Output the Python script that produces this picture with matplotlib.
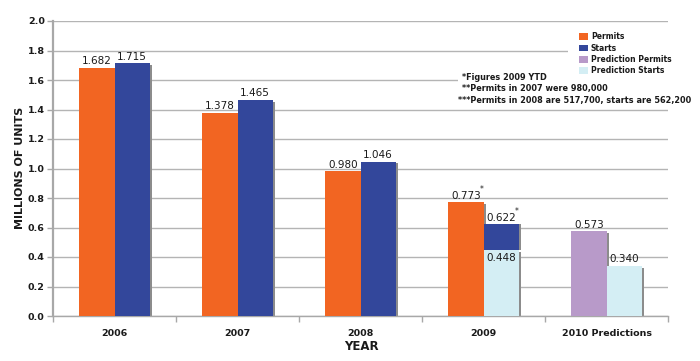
import matplotlib
matplotlib.use("Agg")
import matplotlib.pyplot as plt
from matplotlib.patches import Rectangle, Patch
import numpy as np

categories = ["2006", "2007", "2008", "2009", "2010 Predictions"]
permits = [1.682, 1.378, 0.980, 0.773, None]
starts = [1.715, 1.465, 1.046, 0.622, None]
pred_permits = [None, None, None, None, 0.573]
pred_starts = [None, None, None, 0.448, 0.340]
yticks = [0.0, 0.2, 0.4, 0.6, 0.8, 1.0, 1.2, 1.4, 1.6, 1.8, 2.0]
notes = ["*Figures 2009 YTD",
         "**Permits in 2007 were 980,000",
         "***Permits in 2008 are 517,700, starts are 562,200"]
legend_labels = ["Permits", "Starts", "Prediction Permits", "Prediction Starts"]

C_PERMIT = "#F26522"
C_START = "#33479B"
C_PPERMIT = "#B89AC9"
C_PSTART = "#D4EEF4"
C_SHADOW = "#8C8C8C"
C_GRID = "#B4B4B4"
C_TEXT = "#1A1A1A"

W, H = 700, 361
fig = plt.figure(figsize=(W / 100, H / 100), dpi=100)
ax = fig.add_axes([53 / W, 1 - 316 / H, (668 - 53) / W, (316 - 21) / H])
ax.set_xlim(-0.5, 4.5)
ax.set_ylim(0, 2.0)
ax.set_axisbelow(True)

bw = 0.285
x = np.arange(len(categories))


def draw_bar(xl, h, color, bottom=0.0, shadow=True):
    if shadow:
        ax.bar(xl + 0.018, h - 0.012 if bottom == 0 else h, width=bw, bottom=bottom,
               align="edge", color=C_SHADOW, zorder=2, linewidth=0)
    ax.bar(xl, h, width=bw, bottom=bottom, align="edge", color=color, zorder=3,
           linewidth=0)


def label(xc, y, s, star=False):
    t = ax.text(xc, y, s, ha="center", va="bottom", fontsize=7.5, color=C_TEXT,
                zorder=5)
    if star:
        ax.annotate("*", xy=(xc, y), xytext=(11, 5), textcoords="offset points",
                    ha="center", va="bottom", fontsize=5.5, color=C_TEXT, zorder=5)
    return t


for i in range(len(categories)):
    if permits[i] is not None:
        draw_bar(x[i] - bw, permits[i], C_PERMIT)
        label(x[i] - bw / 2, permits[i] + 0.01, f"{permits[i]:.3f}", star=(i == 3))
    if pred_permits[i] is not None:
        draw_bar(x[i] - bw, pred_permits[i], C_PPERMIT)
        label(x[i] - bw / 2, pred_permits[i] + 0.01, f"{pred_permits[i]:.3f}")
    if starts[i] is not None:
        if pred_starts[i] is not None:
            draw_bar(x[i], pred_starts[i], C_PSTART)
            draw_bar(x[i], starts[i] - pred_starts[i], C_START, bottom=pred_starts[i])
            label(x[i] + bw / 2, starts[i] + 0.01, f"{starts[i]:.3f}", star=True)
            ax.text(x[i] + bw / 2, pred_starts[i] - 0.02, f"{pred_starts[i]:.3f}",
                    ha="center", va="top", fontsize=7.5, color=C_TEXT, zorder=5)
        else:
            draw_bar(x[i], starts[i], C_START)
            label(x[i] + bw / 2, starts[i] + 0.01, f"{starts[i]:.3f}")
    elif pred_starts[i] is not None:
        draw_bar(x[i], pred_starts[i], C_PSTART)
        label(x[i] + bw / 2, pred_starts[i] + 0.01, f"{pred_starts[i]:.3f}")

# grid
ax.set_yticks(yticks)
ax.set_yticklabels([f"{v:.1f}" for v in yticks])
ax.yaxis.grid(True, color=C_GRID, linewidth=1.0, zorder=0)
ax.xaxis.grid(False)

# spines
for s in ["top", "right"]:
    ax.spines[s].set_visible(False)
ax.spines["left"].set_color("#A8A8A8")
ax.spines["left"].set_linewidth(1.6)
ax.spines["bottom"].set_color("#A8A8A8")
ax.spines["bottom"].set_linewidth(1.0)

ax.tick_params(axis="y", direction="out", length=4, color="#A8A8A8", width=1,
               labelsize=6.8, labelcolor=C_TEXT, pad=2)
for t in ax.get_yticklabels():
    t.set_fontweight("bold")

ax.set_xticks(x)
ax.set_xticklabels(categories)
ax.set_xticks(np.arange(-0.5, 4.6, 1.0), minor=True)
ax.tick_params(axis="x", which="major", length=0, labelsize=6.8, labelcolor=C_TEXT,
               pad=9)
ax.tick_params(axis="x", which="minor", length=4, color="#A8A8A8", width=1)
for t in ax.get_xticklabels():
    t.set_fontweight("bold")

fig.text(20 / W, 1 - 168 / H, "MILLIONS OF UNITS", rotation=90, ha="center",
         va="center", fontsize=8, fontweight="bold", color=C_TEXT)
fig.text(361 / W, 1 - 347 / H, "YEAR", ha="center", va="center", fontsize=8.5,
         fontweight="bold", color=C_TEXT)

# white boxes covering grid behind legend & notes
for (x0, y0, x1, y1) in [(568, 28, 672, 75), (458, 70, 672, 104)]:
    fig.patches.append(Rectangle((x0 / W, 1 - y1 / H), (x1 - x0) / W, (y1 - y0) / H,
                                 transform=fig.transFigure, facecolor="white",
                                 edgecolor="none", zorder=1.5))

# notes
note_pos = [(462, 78), (462, 89), (458, 101)]
for (nx, ny), s in zip(note_pos, notes):
    fig.text(nx / W, 1 - ny / H, s, ha="left", va="center", fontsize=5.85,
             fontweight="bold", color=C_TEXT, zorder=6)

# legend
handles = [Patch(facecolor=c, edgecolor="none") for c in
           [C_PERMIT, C_START, C_PPERMIT, C_PSTART]]
leg = fig.legend(handles, legend_labels, loc="upper left",
                 bbox_to_anchor=(574 / W, 1 - 27 / H), frameon=False,
                 prop={"size": 5.5, "weight": "bold"}, handlelength=1.1,
                 handleheight=1.0, handletextpad=0.4, labelspacing=0.3,
                 borderpad=0.2)
for t in leg.get_texts():
    t.set_color(C_TEXT)

fig.savefig("out.png", dpi=100, facecolor="white")
